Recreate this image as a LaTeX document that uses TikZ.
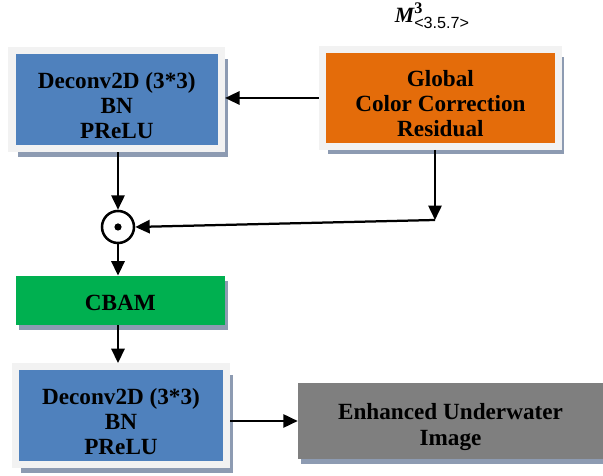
\documentclass[tikz,border=0pt]{standalone}
\usepackage{fontspec}
\setmainfont{Liberation Serif}
\newfontfamily\subfont{Liberation Sans}
\usetikzlibrary{arrows.meta,shadows}

\definecolor{convblue}{RGB}{79,129,189}
\definecolor{gccorange}{RGB}{228,108,10}
\definecolor{cbamgreen}{RGB}{0,176,80}
\definecolor{outgray}{RGB}{127,127,127}
\definecolor{framegray}{RGB}{242,242,242}
\definecolor{shadowblue}{RGB}{141,155,178}

% pushes a node text a little down
\newcommand{\padtop}[1]{\rule{0pt}{#1}}

\tikzset{
    block/.style={rectangle, align=center, inner sep=0pt, text=black,
        font=\fontsize{16.5}{17.8}\selectfont\bfseries},
    edgedbox/.style={block, fill=#1, draw=framegray, line width=0.175cm,
        drop shadow={shadow xshift=0.15cm, shadow yshift=-0.2cm, fill=shadowblue, opacity=1}},
    flatbox/.style={block, fill=#1,
        drop shadow={shadow xshift=0.08cm, shadow yshift=-0.12cm, fill=shadowblue, opacity=1}},
    arr/.style={-{Triangle[length=0.36cm,width=0.33cm]}, line width=1.6pt},
}

\begin{document}
\begin{tikzpicture}
        \useasboundingbox (0,0) rectangle (15.075,11.9);

        %upper row
        \node[edgedbox=convblue, minimum width=5.24cm, minimum height=2.45cm] (conv1) at (2.92,9.41) {\padtop{20pt}Deconv2D (3*3)\\BN\\PReLU};
        \node[edgedbox=gccorange, minimum width=5.9cm, minimum height=2.425cm] (gccr) at (11.01,9.45) {\padtop{20pt}Global\\Color Correction\\Residual};
        \node (mlab) at (10.8,11.5) {\fontsize{15.5}{15.5}\selectfont\bfseries\itshape M\rlap{\raisebox{6.5pt}{\fontsize{11.5}{11.5}\selectfont\upshape 3}}\raisebox{-4.5pt}{\fontsize{11.5}{11.5}\selectfont\mdseries\upshape\subfont <3.5.7>}};

        %product
        \node[circle, draw, line width=1.8pt, minimum size=0.8cm, inner sep=0pt,
            path picture={\fill (path picture bounding box.center) circle (0.09cm);}] (prod) at (2.95,6.225) {};
        \coordinate (corner) at (10.875,6.4);

        %lower column
        \node[flatbox=cbamgreen, minimum width=5.225cm, minimum height=1.225cm] (cbam) at (3.01,4.39) {\padtop{15pt}CBAM};
        \node[edgedbox=convblue, minimum width=5.275cm, minimum height=2.45cm] (conv2) at (3.025,1.51) {\padtop{20pt}Deconv2D (3*3)\\BN\\PReLU};
        \node[flatbox=outgray, minimum width=7.625cm, minimum height=1.9cm] (out) at (11.2625,1.375) {\padtop{20pt}Enhanced Underwater\\Image};

        %arrows
        \draw[arr] (gccr.west) -- (gccr.west -| conv1.east);
        \draw[arr] (prod.north |- conv1.south) -- (prod.north);
        \draw[arr] (gccr.south -| corner) -- (corner);
        \draw[arr] (corner) -- (prod.east);
        \draw[arr] (prod.south) -- (prod.south |- cbam.north);
        \draw[arr] (prod.south |- cbam.south) -- (prod.south |- conv2.north);
        \draw[arr] (out.west -| conv2.east) -- (out.west);
    \end{tikzpicture}
\end{document}
